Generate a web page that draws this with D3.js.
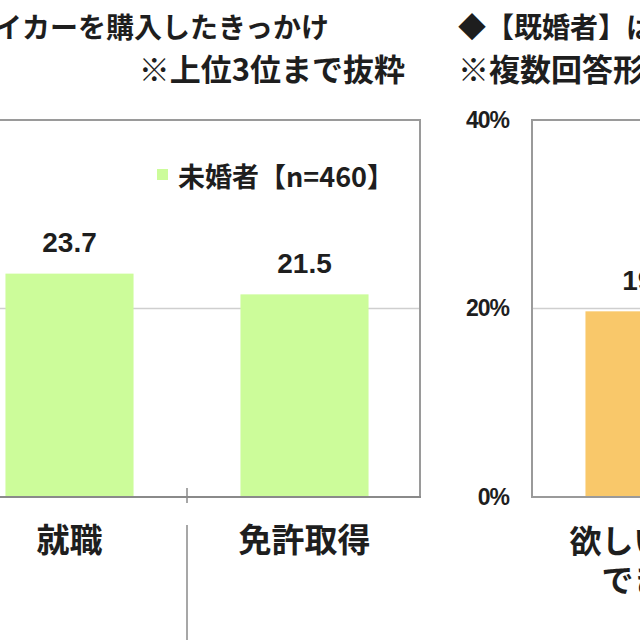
<!DOCTYPE html>
<html><head><meta charset="utf-8">
<script src="https://cdn.jsdelivr.net/npm/d3@7"></script>
<style>
html,body{margin:0;padding:0;background:#fff;overflow:hidden;}
svg{display:block;}
text{font-family:"Noto Sans CJK JP","Noto Sans",sans-serif;font-weight:700;fill:#1e1e1e;}
.num{font-family:"Liberation Sans",Arial,sans-serif;font-weight:700;}
</style></head>
<body>
<svg id="c" width="640" height="640"></svg>
<script>
// ---- data ----
const leftTitle = "◆【未婚者】はじめてマイカーを購入したきっかけ";
const leftNote = "※上位3位まで抜粋";
const rightTitle = "◆【既婚者】はじめてマイカーを購入したきっかけ";
const rightNote = "※複数回答形式";
const leftCategories = ["就職", "免許取得"];
const leftValues = [23.7, 21.5];
const leftSeriesName = "未婚者【n=460】";
const rightCategories = [["欲しい車が", "できた"]];
const rightValues = [19.7];
const yTicks = [0, 20, 40];

// ---- layout ----
const svg = d3.select("#c");
const plotTop = 120, plotBottom = 497;
const y = d3.scaleLinear().domain([0, 40]).range([plotBottom, plotTop]);
const green = "#ccfc9a", orange = "#f9c86a";

// titles
svg.append("text").attr("x", 329).attr("y", 26).attr("dominant-baseline", "central")
  .attr("text-anchor", "end").style("font-size", "28px").text(leftTitle);
svg.append("text").attr("x", 405).attr("y", 67).attr("dominant-baseline", "central")
  .attr("text-anchor", "end").style("font-size", "31px").text(leftNote);
svg.append("text").attr("x", 458).attr("y", 26).attr("dominant-baseline", "central")
  .style("font-size", "28px").text(rightTitle);
svg.append("text").attr("x", 458).attr("y", 67).attr("dominant-baseline", "central")
  .style("font-size", "31px").text(rightNote);

// ---- left chart ----
const xL = d3.scaleBand().domain(leftCategories).range([-48, 422])
  .paddingInner(0.455).paddingOuter(0.2275);
const gL = svg.append("g");
gL.append("line").attr("x1", -10).attr("x2", 420).attr("y1", y(20)).attr("y2", y(20))
  .attr("stroke", "#cfcfcf").attr("stroke-width", 1.5);
gL.selectAll("rect.bar").data(leftValues).join("rect").attr("class", "bar")
  .attr("x", (d, i) => xL(leftCategories[i])).attr("width", xL.bandwidth())
  .attr("y", d => y(d)).attr("height", d => y(0) - y(d)).attr("fill", green);
gL.append("path").attr("d", `M-10,${y(40)}H420V${y(0)}`)
  .attr("fill", "none").attr("stroke", "#9a9a9a").attr("stroke-width", 2);
gL.append("line").attr("x1", -10).attr("x2", 421).attr("y1", y(0)).attr("y2", y(0))
  .attr("stroke", "#8a8a8a").attr("stroke-width", 2);
const sepX = xL(leftCategories[1]) - xL.step() * xL.paddingInner() / 2;
gL.append("line").attr("x1", sepX).attr("x2", sepX).attr("y1", y(0) - 9).attr("y2", y(0) + 6)
  .attr("stroke", "#8a8a8a").attr("stroke-width", 1.5);
gL.append("line").attr("x1", sepX).attr("x2", sepX).attr("y1", 525).attr("y2", 640)
  .attr("stroke", "#8a8a8a").attr("stroke-width", 1.5);
gL.selectAll("text.val").data(leftValues).join("text").attr("class", "val num")
  .attr("x", (d, i) => xL(leftCategories[i]) + xL.bandwidth() / 2)
  .attr("y", d => y(d) - 31).attr("dominant-baseline", "central")
  .attr("text-anchor", "middle").style("font-size", "28px").text(d => d.toFixed(1));
gL.selectAll("text.cat").data(leftCategories).join("text").attr("class", "cat")
  .attr("x", d => xL(d) + xL.bandwidth() / 2).attr("y", 538)
  .attr("dominant-baseline", "central").attr("text-anchor", "middle")
  .style("font-size", "33px").text(d => d);
gL.append("rect").attr("x", 157).attr("y", 169).attr("width", 11).attr("height", 11).attr("fill", green);
gL.append("text").attr("x", 178).attr("y", 175).attr("dominant-baseline", "central")
  .style("font-size", "27px").text(leftSeriesName);

// ---- right chart ----
const xR = d3.scaleBand().domain(rightCategories.map(d => d.join(""))).range([532, 767])
  .paddingInner(0.455).paddingOuter(0.2275);
const gR = svg.append("g");
gR.append("line").attr("x1", 532).attr("x2", 660).attr("y1", y(20)).attr("y2", y(20))
  .attr("stroke", "#cfcfcf").attr("stroke-width", 1.5);
gR.selectAll("rect.bar").data(rightValues).join("rect").attr("class", "bar")
  .attr("x", (d, i) => xR(rightCategories[i].join(""))).attr("width", xR.bandwidth())
  .attr("y", d => y(d)).attr("height", d => y(0) - y(d)).attr("fill", orange);
gR.append("path").attr("d", `M660,${y(40)}H532V${y(0)}H660`)
  .attr("fill", "none").attr("stroke", "#9a9a9a").attr("stroke-width", 2);
const yAxis = d3.axisLeft(y).tickValues(yTicks).tickSize(0).tickPadding(0).tickFormat(d => d + "%");
const ga = svg.append("g").attr("transform", "translate(509,0)").call(yAxis);
ga.select(".domain").remove();
ga.selectAll("text").attr("class", "num").style("font-size", "23px").attr("fill", "#1e1e1e")
  .attr("letter-spacing", "-1");
gR.selectAll("text.val").data(rightValues).join("text").attr("class", "val num")
  .attr("x", (d, i) => xR(rightCategories[i].join("")) + xR.bandwidth() / 2)
  .attr("y", d => y(d) - 31).attr("dominant-baseline", "central")
  .attr("text-anchor", "middle").style("font-size", "28px").text(d => d.toFixed(1));
rightCategories.forEach((lines, i) => {
  const cx = xR(lines.join("")) + xR.bandwidth() / 2;
  lines.forEach((ln, j) => {
    gR.append("text").attr("x", cx).attr("y", 539 + j * 39).attr("dominant-baseline", "central")
      .attr("text-anchor", "middle").style("font-size", "32px").text(ln);
  });
});
</script>
</body></html>
